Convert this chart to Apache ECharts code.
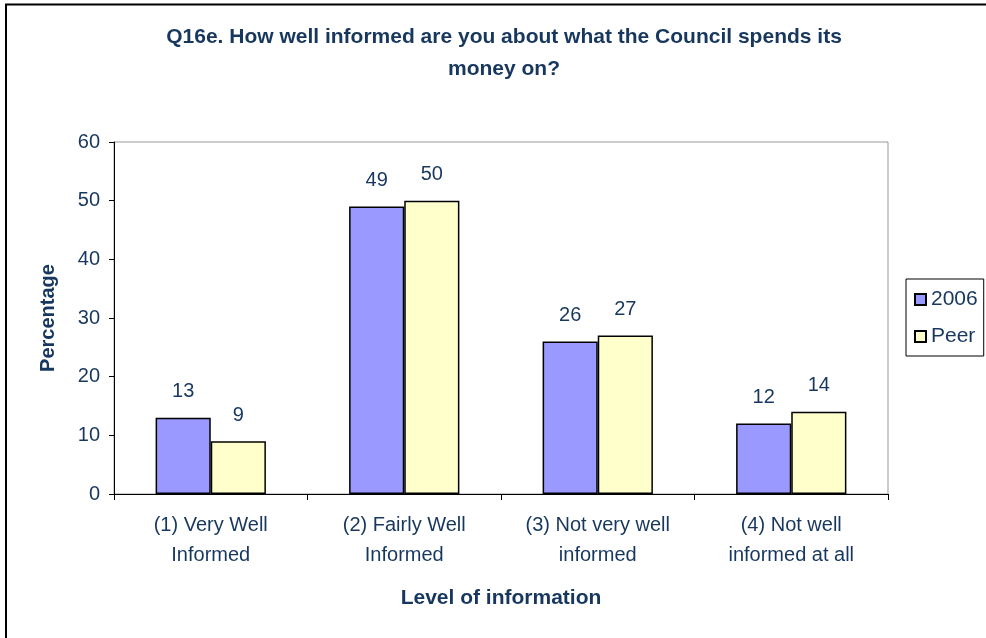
<!DOCTYPE html>
<html><head><meta charset="utf-8">
<script src="https://cdn.jsdelivr.net/npm/echarts@6/dist/echarts.min.js"></script>
<style>html,body{margin:0;padding:0;background:#fff}#c{width:986px;height:638px}</style>
</head><body><div id="c"></div>
<script>
const categories = ["(1) Very Well\nInformed", "(2) Fairly Well\nInformed", "(3) Not very well\ninformed", "(4) Not well\ninformed at all"];
const series2006 = [13, 49, 26, 12];
const seriesPeer = [9, 50, 27, 14];
const seriesNames = ["2006", "Peer"];
const yTicks = [0, 10, 20, 30, 40, 50, 60];

const txt = '#17375E';
const font = '"Liberation Sans", Arial, sans-serif';
const chart = echarts.init(document.getElementById('c'));
chart.setOption({
  animation: false,
  textStyle: {fontFamily: font},
  title: {
    text: 'Q16e. How well informed are you about what the Council spends its\nmoney on?',
    left: 499, top: 16, textAlign: 'center',
    textStyle: {color: txt, fontSize: 21, fontWeight: 'bold', lineHeight: 32, fontFamily: font}
  },
  legend: {
    orient: 'vertical', left: 906, top: 279,
    itemWidth: 11, itemHeight: 11, itemGap: 16,
    padding: [10, 6, 9, 8],
    borderColor: '#000', borderWidth: 1,
    textStyle: {color: txt, fontSize: 21, fontFamily: font},
    data: seriesNames.map(n => ({name: n, icon: 'rect'}))
  },
  grid: {left: 114, top: 142, width: 774, height: 352, show: true, borderColor: '#999', borderWidth: 1, backgroundColor: '#fff'},
  xAxis: {
    type: 'category', data: categories,
    axisLine: {lineStyle: {color: '#000', width: 1}},
    axisTick: {show: true, length: 6, lineStyle: {color: '#000'}},
    axisLabel: {color: txt, fontSize: 20, lineHeight: 30, margin: 16, fontFamily: font},
    name: 'Level of information', nameLocation: 'middle', nameGap: 94,
    nameTextStyle: {color: txt, fontSize: 21, fontWeight: 'bold', fontFamily: font}
  },
  yAxis: {
    type: 'value', min: yTicks[0], max: yTicks[yTicks.length - 1], interval: 10,
    axisLine: {show: true, lineStyle: {color: '#000', width: 1}},
    axisTick: {show: true, length: 5, lineStyle: {color: '#000'}},
    splitLine: {show: false},
    axisLabel: {color: txt, fontSize: 20, margin: 14, fontFamily: font},
    name: 'Percentage', nameLocation: 'middle', nameGap: 56, nameRotate: 90,
    nameTextStyle: {color: txt, fontSize: 20, fontWeight: 'bold', fontFamily: font}
  },
  series: [
    {name: seriesNames[0], type: 'bar', data: series2006, barGap: '0%', barCategoryGap: '43%',
     itemStyle: {color: '#9999FF', borderColor: '#000', borderWidth: 1.5},
     label: {show: true, position: 'top', distance: 16, color: txt, fontSize: 20, fontFamily: font}},
    {name: seriesNames[1], type: 'bar', data: seriesPeer, barGap: '0%', barCategoryGap: '43%',
     itemStyle: {color: '#FFFFCC', borderColor: '#000', borderWidth: 1.5},
     label: {show: true, position: 'top', distance: 16, color: txt, fontSize: 20, fontFamily: font}}
  ],
  graphic: [{type: 'rect', shape: {x: 6, y: 4.5, width: 990, height: 640}, style: {fill: null, stroke: '#000', lineWidth: 2}, silent: true}]
});
</script></body></html>
